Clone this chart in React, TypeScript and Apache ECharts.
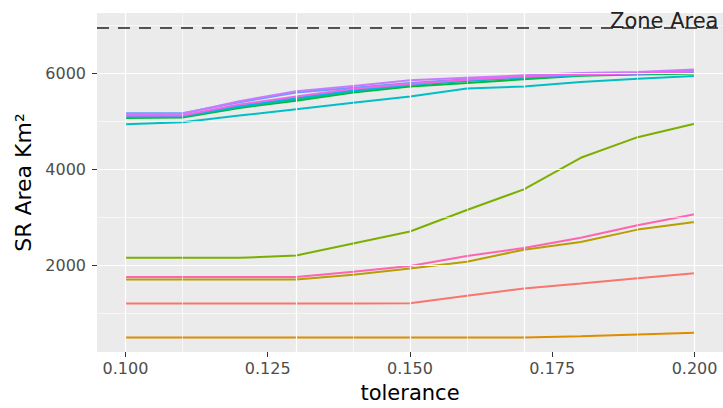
import React, { useEffect, useRef } from "react";
import * as echarts from "echarts";

const tolerance = [0.1, 0.11, 0.12, 0.13, 0.14, 0.15, 0.16, 0.17, 0.18, 0.19, 0.2];

const sRed = [1200, 1200, 1200, 1200, 1200, 1205, 1360, 1510, 1615, 1725, 1830];
const sOrange = [490, 490, 490, 490, 490, 490, 490, 490, 515, 550, 585];
const sOlive = [1700, 1700, 1700, 1700, 1800, 1930, 2070, 2320, 2480, 2740, 2900];
const sGreen = [2150, 2150, 2150, 2200, 2450, 2700, 3150, 3580, 4240, 4670, 4950];
const sGreen2 = [5070, 5080, 5280, 5430, 5600, 5730, 5800, 5880, 5950, 5980, 6000];
const sTeal = [5100, 5100, 5300, 5460, 5630, 5760, 5840, 5910, 5960, 5990, 6020];
const sCyan = [4940, 4980, 5120, 5255, 5390, 5520, 5685, 5730, 5820, 5890, 5945];
const sSky = [5090, 5110, 5320, 5490, 5650, 5770, 5860, 5920, 5970, 6000, 6030];
const sBlue = [5170, 5170, 5400, 5600, 5700, 5800, 5880, 5930, 5990, 6010, 6060];
const sPurple = [5150, 5160, 5420, 5630, 5740, 5860, 5910, 5960, 6010, 6030, 6080];
const sMagenta = [5120, 5120, 5350, 5520, 5680, 5780, 5870, 5940, 5980, 6000, 6040];
const sPink = [1750, 1750, 1750, 1750, 1860, 1980, 2190, 2355, 2570, 2830, 3060];

const seriesList = [
  { name: "a", color: "#F8766D", values: sRed },
  { name: "b", color: "#DE8C00", values: sOrange },
  { name: "c", color: "#B79F00", values: sOlive },
  { name: "d", color: "#7CAE00", values: sGreen },
  { name: "e", color: "#00BA38", values: sGreen2 },
  { name: "f", color: "#00C08B", values: sTeal },
  { name: "g", color: "#00BFC4", values: sCyan },
  { name: "h", color: "#00B4F0", values: sSky },
  { name: "i", color: "#619CFF", values: sBlue },
  { name: "j", color: "#C77CFF", values: sPurple },
  { name: "k", color: "#F564E3", values: sMagenta },
  { name: "l", color: "#FF64B0", values: sPink },
];

const zoneArea = 6950;
const xTicks = [0.1, 0.125, 0.15, 0.175, 0.2];
const xMinor = [0.1125, 0.1375, 0.1625, 0.1875];
const yTicks = [2000, 4000, 6000];
const yMinor = [1000, 3000, 5000, 7000];

const FONT = "DejaVu Sans";

export default function App() {
  const ref = useRef<HTMLDivElement>(null);
  useEffect(() => {
    if (!ref.current) return;
    const chart = echarts.init(ref.current, null, { renderer: "svg" });
    const gridLines = [
      ...xTicks.map((v) => ({ xAxis: v, lineStyle: { width: 1.2 } })),
      ...xMinor.map((v) => ({ xAxis: v, lineStyle: { width: 0.6 } })),
      ...yTicks.map((v) => ({ yAxis: v, lineStyle: { width: 1.2 } })),
      ...yMinor.map((v) => ({ yAxis: v, lineStyle: { width: 0.6 } })),
    ];
    chart.setOption({
      animation: false,
      grid: {
        left: 97,
        right: 0,
        top: 13,
        bottom: 53,
        show: true,
        backgroundColor: "#EBEBEB",
        borderWidth: 0,
      },
      xAxis: {
        type: "value",
        min: 0.095,
        max: 0.205,
        name: "tolerance",
        nameLocation: "middle",
        nameGap: 30,
        nameTextStyle: { fontFamily: FONT, fontSize: 21, color: "#000" },
        axisLine: { show: false },
        splitLine: { show: false },
        axisTick: {
          show: true,
          customValues: xTicks,
          length: 5,
          lineStyle: { color: "#333", width: 1 },
        },
        axisLabel: {
          customValues: xTicks,
          formatter: (v: number) => v.toFixed(3),
          fontFamily: FONT,
          fontSize: 16,
          color: "#4D4D4D",
          margin: 8,
        },
      },
      yAxis: {
        type: "value",
        min: 185,
        max: 7262,
        name: "SR Area Km²",
        nameLocation: "middle",
        nameGap: 58,
        nameTextStyle: { fontFamily: FONT, fontSize: 22, color: "#000" },
        axisLine: { show: false },
        splitLine: { show: false },
        axisTick: {
          show: true,
          customValues: yTicks,
          length: 5,
          lineStyle: { color: "#333", width: 1 },
        },
        axisLabel: {
          customValues: yTicks,
          formatter: (v: number) => String(Math.round(v)),
          fontFamily: FONT,
          fontSize: 16,
          color: "#4D4D4D",
          margin: 11,
        },
      },
      graphic: [
        {
          type: "text",
          left: 610,
          top: 10,
          z: 100,
          style: {
            text: "Zone Area",
            font: `21px "${FONT}"`,
            fill: "#222",
          },
        },
      ],
      series: [
        {
          type: "line",
          name: "grid",
          data: [],
          z: 1,
          silent: true,
          markLine: {
            silent: true,
            symbol: "none",
            label: { show: false },
            lineStyle: { color: "#FFFFFF", type: "solid" },
            data: gridLines,
          },
        },
        ...seriesList.map((s) => ({
          type: "line",
          name: s.name,
          z: 2,
          data: tolerance.map((x, i) => [x, s.values[i]]),
          showSymbol: false,
          symbol: "none",
          lineStyle: { color: s.color, width: 2 },
          itemStyle: { color: s.color },
        })),
        {
          type: "line",
          name: "zone",
          data: [],
          z: 3,
          silent: true,
          markLine: {
            silent: true,
            symbol: "none",
            label: { show: false },
            lineStyle: { color: "#222", type: [12, 9], width: 1.7 },
            data: [{ yAxis: zoneArea }],
          },
        },
      ],
    });
    return () => chart.dispose();
  }, []);
  return <div ref={ref} style={{ width: 723, height: 408, position: "absolute", left: 0, top: 0 }} />;
}
